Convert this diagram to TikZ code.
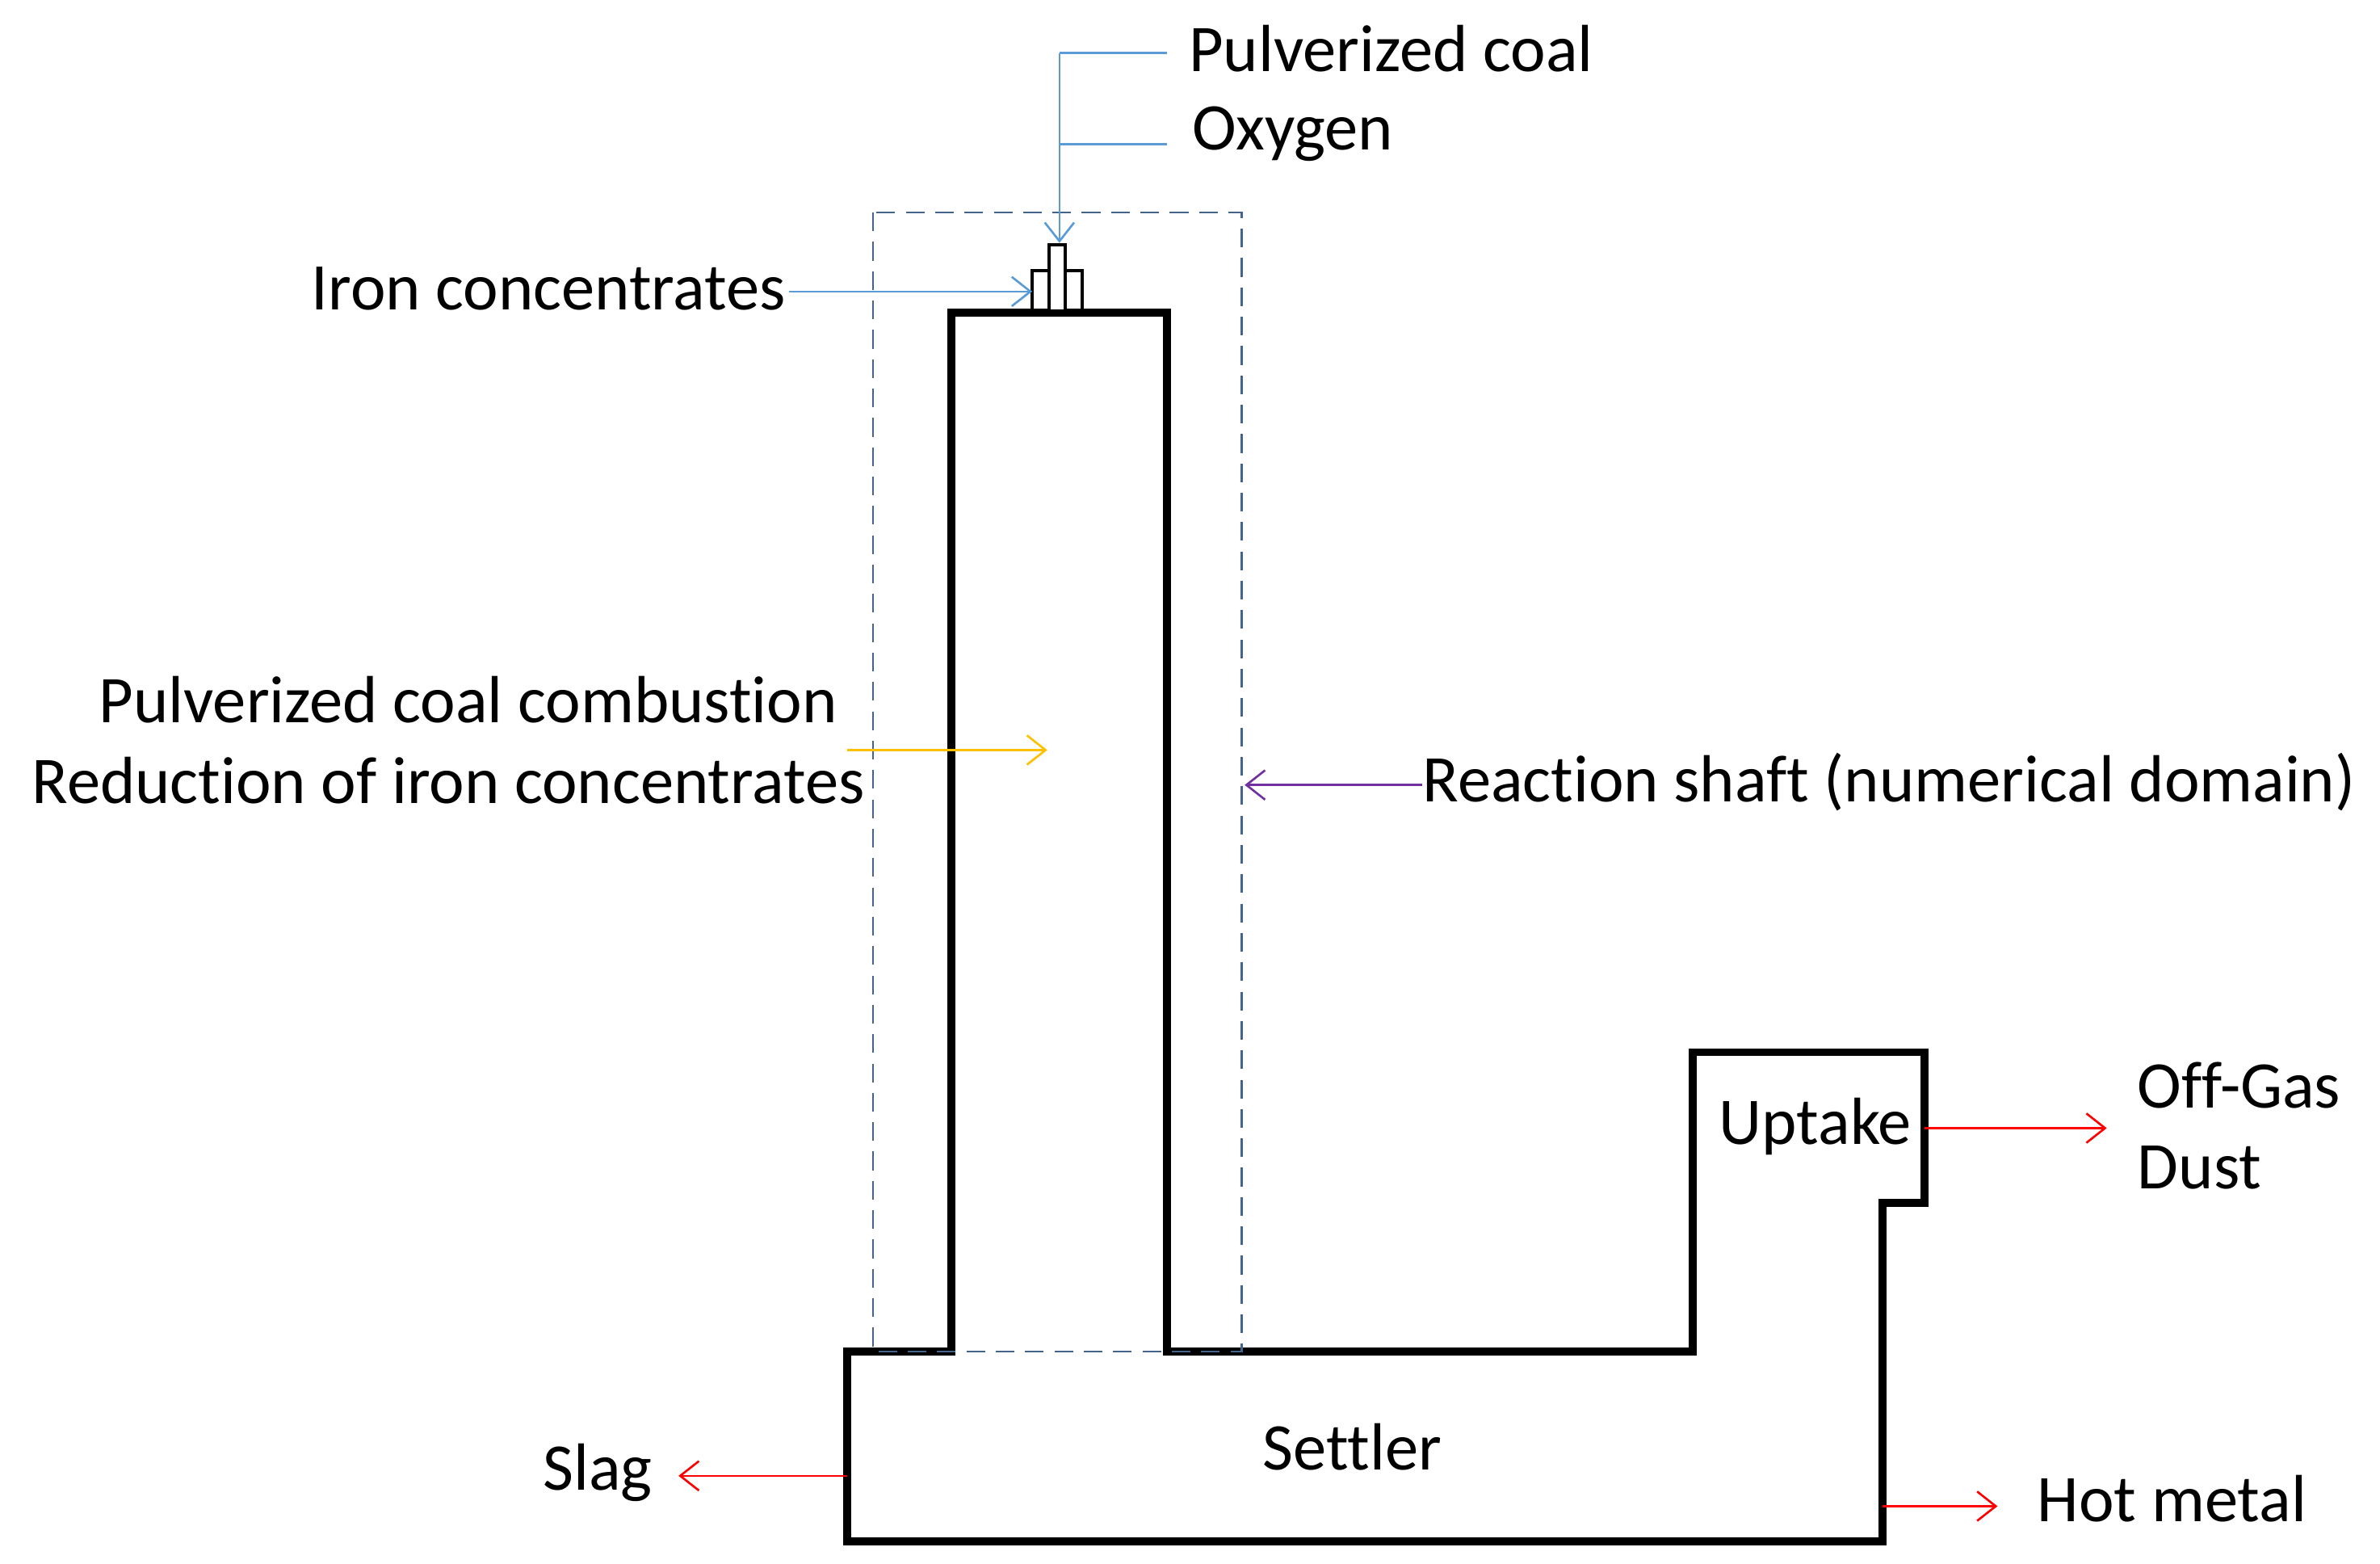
\documentclass[tikz,border=0pt]{standalone}
\usepackage{fontspec}
\setmainfont{Carlito}[Ligatures={NoCommon}]
\usetikzlibrary{arrows.meta}
\definecolor{cblue}{RGB}{91,155,213}
\definecolor{cyel}{RGB}{255,192,0}
\definecolor{cpur}{RGB}{112,48,160}
\definecolor{cred}{RGB}{255,0,0}
\definecolor{cdash}{RGB}{68,100,140}
\begin{document}
\begin{tikzpicture}[x=0.02cm,y=-0.02cm,
  wall/.style={line width=3pt,line join=miter},
  thin/.style={line width=0.8pt},
  tip/.style={-{Straight Barb[length=7pt,width=11pt,line width=0.8pt]}},
  lbl/.style={font=\fontsize{25}{28}\selectfont,inner sep=0pt}]
\useasboundingbox (0,0) rectangle (1568,1030);
% furnace outline
\draw[wall] (627,890) -- (627,206) -- (769,206) -- (769,890) -- (1115,890) -- (1115,693) -- (1268,693) -- (1268,792) -- (1240,792) -- (1240,1015) -- (558,1015) -- (558,890) -- cycle;
% burner
\draw[line width=1.2pt] (680,204) -- (680,178) -- (713,178) -- (713,204);
\draw[line width=1.2pt,fill=white] (691,204) -- (691,161) -- (702,161) -- (702,204);
% dashed domain
\draw[cdash,line width=0.7pt,dash pattern=on 7pt off 4pt] (575,140) rectangle (818,890);
% labels
\node[lbl,anchor=west] (pc) at (783,32) {Pulverized coal};
\node[lbl,anchor=west] (ox) at (785,88) {Oxygen};
\node[lbl,anchor=east] (ic) at (518,190) {Iron concentrates};
\node[lbl,anchor=east] (pcc) at (552,461) {Pulverized coal combustion};
\node[lbl,anchor=east] (ric) at (570,514) {Reduction of iron concentrates};
\node[lbl,anchor=west] (rs) at (937,515) {Reaction shaft (numerical domain)};
\node[lbl] (up) at (1196,742) {Uptake};
\node[lbl,anchor=west] (og) at (1408,715) {Off-Gas};
\node[lbl,anchor=west] (du) at (1408,769) {Dust};
\node[lbl] (se) at (891,953) {Settler};
\node[lbl,anchor=east] (sl) at (430,970) {Slag};
\node[lbl,anchor=west] (hm) at (1342,987) {Hot metal};
% connector points
\coordinate (pcE) at (769,35);
\coordinate (oxE) at (769,95);
\coordinate (j1) at (698,35);
\coordinate (j2) at (698,95);
\coordinate (bt) at (698,160);
\coordinate (icS) at (520,192);
\coordinate (icE) at (680,192);
\coordinate (yS) at (558,494);
\coordinate (yE) at (690,494);
\coordinate (pS) at (937,517);
\coordinate (pE) at (820,517);
\coordinate (uS) at (1268,743);
\coordinate (uE) at (1388,743);
\coordinate (sS) at (558,972);
\coordinate (sE) at (447,972);
\coordinate (hS) at (1240,992);
\coordinate (hE) at (1316,992);
\draw[cblue,thin] (pcE) -- (j1);
\draw[cblue,thin] (oxE) -- (j2);
\draw[cblue,thin,tip] (j1) -- (bt);
\draw[cblue,thin,tip] (icS) -- (icE);
\draw[cyel,thin,tip] (yS) -- (yE);
\draw[cpur,thin,tip] (pS) -- (pE);
\draw[cred,thin,tip] (uS) -- (uE);
\draw[cred,thin,tip] (sS) -- (sE);
\draw[cred,thin,tip] (hS) -- (hE);
\end{tikzpicture}
\end{document}
